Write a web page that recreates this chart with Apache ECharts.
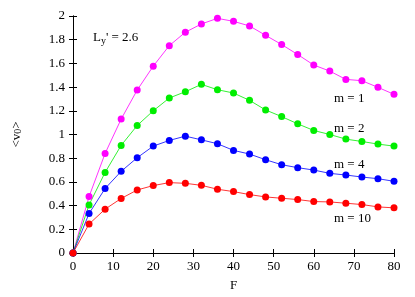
<!DOCTYPE html>
<html>
<head>
<meta charset="utf-8">
<script src="https://cdn.jsdelivr.net/npm/echarts@6/dist/echarts.min.js"></script>
<style>html,body{margin:0;padding:0;background:#fff}#c{width:415px;height:297px}</style>
</head>
<body>
<div id="c"></div>
<script>
const F = [0,4,8,12,16,20,24,28,32,36,40,44,48,52,56,60,64,68,72,76,80];
const m1 = [0,0.476,0.84,1.13,1.375,1.577,1.75,1.863,1.933,1.98,1.955,1.916,1.837,1.759,1.675,1.586,1.535,1.465,1.454,1.398,1.339];
const m2 = [0,0.406,0.68,0.908,1.076,1.20,1.308,1.361,1.423,1.378,1.35,1.288,1.207,1.151,1.09,1.034,1.0,0.961,0.941,0.919,0.902];
const m4 = [0,0.333,0.544,0.689,0.804,0.902,0.95,0.986,0.955,0.922,0.866,0.835,0.787,0.745,0.72,0.70,0.672,0.658,0.641,0.627,0.605];
const m10 = [0,0.244,0.37,0.46,0.532,0.569,0.594,0.588,0.571,0.538,0.518,0.493,0.473,0.462,0.451,0.434,0.431,0.42,0.409,0.389,0.381];
const seriesNames = ['m = 1','m = 2','m = 4','m = 10'];
const seriesData = [m1, m2, m4, m10];
const colors = ['#ff00ff','#00ee00','#0000ff','#ff0000'];
const xTicks = [0,10,20,30,40,50,60,70,80];
const yTicks = [0,0.2,0.4,0.6,0.8,1,1.2,1.4,1.6,1.8,2];

const font = 'Liberation Serif, Times New Roman, serif';
const fs = 13;
const chart = echarts.init(document.getElementById('c'), null, {renderer:'canvas'});
const axisCommon = {
  axisLine:{show:true, lineStyle:{color:'#000', width:1}},
  axisTick:{show:true, inside:true, length:4, lineStyle:{color:'#000'}},
  splitLine:{show:false},
};
chart.setOption({
  animation:false,
  backgroundColor:'#fff',
  grid:{left:73, right:21, top:16, bottom:43},
  xAxis:[
    Object.assign({type:'value', min:0, max:80, interval:10, position:'bottom',
      name:'F', nameLocation:'middle', nameGap:26,
      nameTextStyle:{fontFamily:font, fontSize:fs, color:'#000'},
      axisLabel:{fontFamily:font, fontSize:fs, color:'#000', margin:7,
        formatter:v=>xTicks.includes(v)?String(v):''}}, axisCommon),
    Object.assign({type:'value', min:0, max:80, interval:10, position:'top',
      axisLabel:{show:false}}, axisCommon)
  ],
  yAxis:[
    Object.assign({type:'value', min:0, max:2, interval:0.2, position:'left',
      name:'<v{s|0}>', nameLocation:'middle', nameGap:50, nameRotate:90,
      nameTextStyle:{fontFamily:font, fontSize:fs, color:'#000',
        rich:{s:{fontFamily:font, fontSize:10, verticalAlign:'bottom'}}},
      axisLabel:{fontFamily:font, fontSize:fs, color:'#000', margin:8,
        formatter:v=>String(Math.round(v*10)/10)}}, axisCommon),
    Object.assign({type:'value', min:0, max:2, interval:0.2, position:'right',
      axisLabel:{show:false}}, axisCommon)
  ],
  series: seriesData.map((d,i)=>({
    type:'line', name:seriesNames[i],
    data: F.map((f,j)=>[f,d[j]]),
    symbol:'circle', symbolSize:7,
    itemStyle:{color:colors[i]},
    lineStyle:{color:colors[i], width:0.8},
    smooth:false
  })),
  graphic:[
    {type:'text', left:93, top:31, style:{text:'L{s|y}\' = 2.6', fontFamily:font, fontSize:fs, fill:'#000',
      rich:{s:{fontFamily:font, fontSize:10, verticalAlign:'bottom', padding:[7,0,0,0]}}}},
    {type:'text', left:334, top:92, style:{text:seriesNames[0], fontFamily:font, fontSize:fs, fill:'#000'}},
    {type:'text', left:334, top:122, style:{text:seriesNames[1], fontFamily:font, fontSize:fs, fill:'#000'}},
    {type:'text', left:334, top:158, style:{text:seriesNames[2], fontFamily:font, fontSize:fs, fill:'#000'}},
    {type:'text', left:334, top:212, style:{text:seriesNames[3], fontFamily:font, fontSize:fs, fill:'#000'}}
  ]
});
</script>
</body>
</html>
